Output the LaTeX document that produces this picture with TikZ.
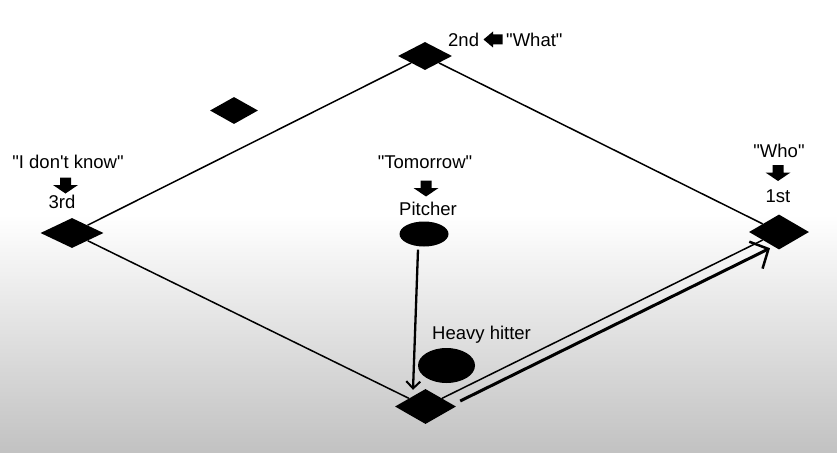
\documentclass[tikz,border=0pt]{standalone}
\usepackage{fontspec}
\newfontfamily\lab{Liberation Sans}
\usetikzlibrary{shapes.geometric,arrows.meta,calc}
\tikzset{
  base/.style={shape=diamond, fill=black, draw=none, inner sep=0pt},
  ball/.style={ellipse, fill=black, draw=none, inner sep=0pt},
  lbl/.style={font=\lab\fontsize{18.5}{20}\selectfont, inner sep=0pt},
  basepath/.style={line width=1.5pt},
  downarr/.pic={\fill (-5.5,-8) -- (5.5,-8) -- (5.5,-0.5) -- (12.5,-0.5) -- (0,8) -- (-12.5,-0.5) -- (-5.5,-0.5) -- cycle;},
  leftarr/.pic={\fill (9.5,-5) -- (9.5,5) -- (0,5) -- (0,8) -- (-9.5,0) -- (0,-8) -- (0,-5) -- cycle;}
}
\begin{document}
\begin{tikzpicture}[x=1pt,y=-1pt]
\useasboundingbox (0,0) rectangle (837,452);
\fill[white] (0,0) rectangle (837,216);
\shade[top color=white, bottom color=gray!48] (0,215) rectangle (837,452);

% bases
\node[base, minimum width=54pt, minimum height=28pt] (second) at (425,56) {};
\node[base, minimum width=63pt, minimum height=30pt] (third) at (72,233) {};
\node[base, minimum width=60pt, minimum height=35pt] (first) at (779,232) {};
\node[base, minimum width=61pt, minimum height=35pt] (home) at (425.5,406.5) {};
\node[base, minimum width=48pt, minimum height=27pt] (extra) at (234,110.5) {};

% base paths
\draw[basepath] (second) -- (third);
\draw[basepath] (second) -- (first);
\draw[basepath] (third) -- (home);
\draw[basepath] (home) -- (first);

% players
\node[ball, minimum width=49pt, minimum height=25pt] (pitcher) at (424,234) {};
\node[ball, minimum width=57pt, minimum height=35pt] (hitter) at (446.5,365.5) {};

% pitch arrow
\draw[line width=2.3pt, -{Straight Barb[length=7pt,width=14pt,line width=2pt]}]
  ($(pitcher.south)+(-6,3)$) -- ($(home.north)+(-12.5,1)$);

% run arrow
\draw[line width=3pt, -{Straight Barb[length=14pt,width=30pt,line width=2.5pt]}]
  ($(home.east)+(4,-5.5)$) -- ($(first.south)+(-9,-1.5)$);

% labels
\node[lbl, anchor=base west] (l2nd) at (448,46) {2nd};
\pic at (493,39.5) {leftarr};
\node[lbl, anchor=base west] (lwhat) at (506,46) {"What"};

\node[lbl, anchor=base] (ldk) at (68,168) {"I don't know"};
\pic at (65.5,185.5) {downarr};
\node[lbl, anchor=base] (l3rd) at (62,208) {3rd};

\node[lbl, anchor=base] (ltom) at (425,168) {"Tomorrow"};
\pic at (426,188.5) {downarr};
\node[lbl, anchor=base] (lpit) at (428,215) {Pitcher};

\node[lbl, anchor=base] (lwho) at (779,157) {"Who"};
\pic at (778,173) {downarr};
\node[lbl, anchor=base] (l1st) at (778,202) {1st};

\node[lbl, anchor=base west] (lhh) at (432,339) {Heavy hitter};
\end{tikzpicture}
\end{document}
